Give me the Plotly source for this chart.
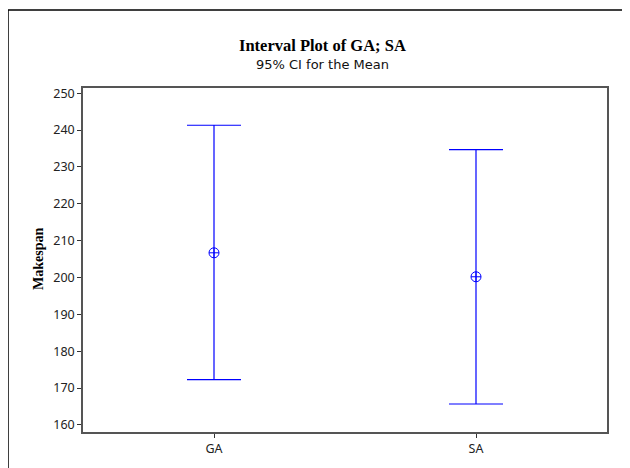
import plotly.graph_objects as go

categories = ["GA", "SA"]
means = [206.7, 200.2]
lower = [172.3, 165.7]
upper = [241.3, 234.7]
y_ticks = [160, 170, 180, 190, 200, 210, 220, 230, 240, 250]

err_plus = [u - m for u, m in zip(upper, means)]
err_minus = [m - l for m, l in zip(means, lower)]

fig = go.Figure()
fig.add_trace(go.Scatter(
    x=categories, y=means, mode="markers",
    marker=dict(symbol="circle-cross-open", size=10, color="#0000FF",
                line=dict(width=1, color="#0000FF")),
    error_y=dict(type="data", symmetric=False, array=err_plus, arrayminus=err_minus,
                 color="#0000FF", thickness=1.2, width=27),
    showlegend=False,
))

# page body has an 8px default margin; work in figure coordinates (screen - 8)
OFF = 8
W, H = 622, 460
L, T = 83 - OFF, 88 - OFF
R, B = W - (607 - OFF), H - (432 - OFF)
pw, ph = W - L - R, H - T - B


def px(xs):
    return (xs - OFF - L) / pw


def py(ys):
    return (H - B - (ys - OFF)) / ph


tick_font = dict(family="Noto Sans", size=12.5, color="#222")

fig.update_layout(
    width=W, height=H,
    margin=dict(l=L, r=R, t=T, b=B),
    paper_bgcolor="white", plot_bgcolor="white",
    font=dict(family="Noto Sans", size=12, color="#222"),
    xaxis=dict(type="category", range=[-0.5, 1.5], showgrid=False, zeroline=False,
               showline=True, linecolor="#555", linewidth=1.5, mirror=True,
               ticks="outside", ticklen=4, tickcolor="#333", tickfont=tick_font),
    yaxis=dict(range=[158.1, 251.4], tickvals=y_ticks, showgrid=False, zeroline=False,
               showline=True, linecolor="#555", linewidth=1.5, mirror=True,
               ticks="outside", ticklen=4, tickcolor="#333", tickfont=tick_font),
    annotations=[
        dict(text="<b>Interval Plot of GA; SA</b>", xref="paper", yref="paper",
             x=px(322), y=py(45), showarrow=False,
             font=dict(family="Liberation Serif", size=16.5, color="#000"),
             xanchor="center", yanchor="middle"),
        dict(text="95% CI for the Mean", xref="paper", yref="paper",
             x=px(322), y=py(64), showarrow=False,
             font=dict(family="DejaVu Sans", size=13, color="#111"),
             xanchor="center", yanchor="middle"),
        dict(text="<b>Makespan</b>", xref="paper", yref="paper",
             x=px(38), y=py(259), showarrow=False, textangle=-90,
             font=dict(family="Liberation Serif", size=14, color="#000"),
             xanchor="center", yanchor="middle"),
    ],
    shapes=[
        dict(type="rect", xref="paper", yref="paper",
             x0=px(8), x1=px(660), y0=py(500), y1=py(10),
             line=dict(color="#000", width=1.5), fillcolor="rgba(0,0,0,0)", layer="below"),
    ],
)

fig.write_html("out.html")
